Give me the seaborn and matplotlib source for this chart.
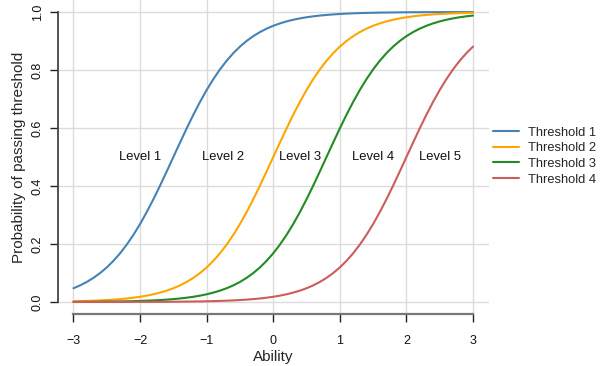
"""
Probability of passing each threshold by ability (four logistic curves).
"""

import matplotlib
matplotlib.use("Agg")
import matplotlib.pyplot as plt
import pandas as pd
import seaborn as sns


ABILITY = [
    -3.0, -2.9, -2.8, -2.7, -2.6, -2.5, -2.4, -2.3, -2.2, -2.1,
    -2.0, -1.9, -1.8, -1.7, -1.6, -1.5, -1.4, -1.3, -1.2, -1.1,
    -1.0, -0.9, -0.8, -0.7, -0.6, -0.5, -0.4, -0.3, -0.2, -0.1,
    0.0, 0.1, 0.2, 0.3, 0.4, 0.5, 0.6, 0.7, 0.8, 0.9,
    1.0, 1.1, 1.2, 1.3, 1.4, 1.5, 1.6, 1.7, 1.8, 1.9,
    2.0, 2.1, 2.2, 2.3, 2.4, 2.5, 2.6, 2.7, 2.8, 2.9,
    3.0
]

THRESHOLD_1 = [
    0.0474, 0.0573, 0.0691, 0.0832, 0.0998, 0.1192, 0.1419, 0.1680, 0.1978, 0.2315,
    0.2689, 0.3100, 0.3543, 0.4013, 0.4502, 0.5000, 0.5498, 0.5987, 0.6457, 0.6900,
    0.7311, 0.7685, 0.8022, 0.8320, 0.8581, 0.8808, 0.9002, 0.9168, 0.9309, 0.9427,
    0.9526, 0.9608, 0.9677, 0.9734, 0.9781, 0.9820, 0.9852, 0.9879, 0.9900, 0.9918,
    0.9933, 0.9945, 0.9955, 0.9963, 0.9970, 0.9975, 0.9980, 0.9983, 0.9986, 0.9989,
    0.9991, 0.9993, 0.9994, 0.9995, 0.9996, 0.9997, 0.9997, 0.9998, 0.9998, 0.9998,
    0.9999
]

THRESHOLD_2 = [
    0.0025, 0.0030, 0.0037, 0.0045, 0.0055, 0.0067, 0.0082, 0.0100, 0.0121, 0.0148,
    0.0180, 0.0219, 0.0266, 0.0323, 0.0392, 0.0474, 0.0573, 0.0691, 0.0832, 0.0998,
    0.1192, 0.1419, 0.1680, 0.1978, 0.2315, 0.2689, 0.3100, 0.3543, 0.4013, 0.4502,
    0.5000, 0.5498, 0.5987, 0.6457, 0.6900, 0.7311, 0.7685, 0.8022, 0.8320, 0.8581,
    0.8808, 0.9002, 0.9168, 0.9309, 0.9427, 0.9526, 0.9608, 0.9677, 0.9734, 0.9781,
    0.9820, 0.9852, 0.9879, 0.9900, 0.9918, 0.9933, 0.9945, 0.9955, 0.9963, 0.9970,
    0.9975
]

THRESHOLD_3 = [
    0.0005, 0.0006, 0.0007, 0.0009, 0.0011, 0.0014, 0.0017, 0.0020, 0.0025, 0.0030,
    0.0037, 0.0045, 0.0055, 0.0067, 0.0082, 0.0100, 0.0121, 0.0148, 0.0180, 0.0219,
    0.0266, 0.0323, 0.0392, 0.0474, 0.0573, 0.0691, 0.0832, 0.0998, 0.1192, 0.1419,
    0.1680, 0.1978, 0.2315, 0.2689, 0.3100, 0.3543, 0.4013, 0.4502, 0.5000, 0.5498,
    0.5987, 0.6457, 0.6900, 0.7311, 0.7685, 0.8022, 0.8320, 0.8581, 0.8808, 0.9002,
    0.9168, 0.9309, 0.9427, 0.9526, 0.9608, 0.9677, 0.9734, 0.9781, 0.9820, 0.9852,
    0.9879
]

THRESHOLD_4 = [
    0.0000, 0.0001, 0.0001, 0.0001, 0.0001, 0.0001, 0.0002, 0.0002, 0.0002, 0.0003,
    0.0003, 0.0004, 0.0005, 0.0006, 0.0007, 0.0009, 0.0011, 0.0014, 0.0017, 0.0020,
    0.0025, 0.0030, 0.0037, 0.0045, 0.0055, 0.0067, 0.0082, 0.0100, 0.0121, 0.0148,
    0.0180, 0.0219, 0.0266, 0.0323, 0.0392, 0.0474, 0.0573, 0.0691, 0.0832, 0.0998,
    0.1192, 0.1419, 0.1680, 0.1978, 0.2315, 0.2689, 0.3100, 0.3543, 0.4013, 0.4502,
    0.5000, 0.5498, 0.5987, 0.6457, 0.6900, 0.7311, 0.7685, 0.8022, 0.8320, 0.8581,
    0.8808
]

SERIES_NAMES = ["Threshold 1", "Threshold 2", "Threshold 3", "Threshold 4"]
SERIES_COLORS = ["#4682B4", "#FFA500", "#228B22", "#CD5C5C"]

LEVEL_LABELS = ["Level 1", "Level 2", "Level 3", "Level 4", "Level 5"]
LEVEL_X = [-2.0, -0.75, 0.4, 1.5, 2.5]
LEVEL_Y = 0.5

X_TICKS = [-3, -2, -1, 0, 1, 2, 3]
Y_TICKS = [0.0, 0.2, 0.4, 0.6, 0.8, 1.0]


def build_dataframe() -> pd.DataFrame:
    frames = []
    for name, values in zip(
            SERIES_NAMES,
            [THRESHOLD_1, THRESHOLD_2, THRESHOLD_3, THRESHOLD_4]
    ):
        frames.append(
            pd.DataFrame({
                "Ability": ABILITY,
                "Probability": values,
                "Series": name
            })
        )
    return pd.concat(frames, ignore_index=True)


def main() -> None:
    sns.set_style("white")
    plt.rcParams["font.family"] = ["Liberation Sans", "DejaVu Sans"]

    data = build_dataframe()

    fig = plt.figure(figsize=(6.04, 3.66), dpi=100)
    ax = fig.add_axes([0.0952, 0.1432, 0.7144, 0.8556])

    ax.grid(True, color="#dcdcdc", linewidth=1.0)
    ax.set_axisbelow(True)

    sns.lineplot(
        data=data,
        x="Ability",
        y="Probability",
        hue="Series",
        palette=dict(zip(SERIES_NAMES, SERIES_COLORS)),
        linewidth=1.5,
        ax=ax
    )

    for label, x_pos in zip(LEVEL_LABELS, LEVEL_X):
        ax.text(x_pos, LEVEL_Y, label, ha="center", va="center",
                fontsize=9.4, color="#111111")

    ax.set_xlim(-3.24, 3.24)
    ax.set_ylim(-0.04, 1.04)
    ax.set_xticks(X_TICKS)
    ax.set_xticklabels(["\u22123", "\u22122", "\u22121", "0", "1", "2", "3"])
    ax.set_yticks(Y_TICKS)
    ax.set_yticklabels([f"{v:.1f}" for v in Y_TICKS], rotation=90, va="center")

    for side in ["top", "right"]:
        ax.spines[side].set_visible(False)
    ax.spines["left"].set_bounds(0, 1)
    ax.spines["bottom"].set_bounds(-3, 3)
    ax.spines["left"].set_color("#444444")
    ax.spines["bottom"].set_color("#777777")
    ax.spines["left"].set_linewidth(1.3)
    ax.spines["bottom"].set_linewidth(1.6)

    ax.tick_params(axis="both", direction="out", length=6, width=1.0,
                   color="#222222", labelsize=9, labelcolor="#111111",
                   left=True, bottom=True)
    ax.tick_params(axis="x", pad=9.5)
    ax.tick_params(axis="y", pad=4)

    ax.set_xlabel("Ability", fontsize=11, labelpad=2)
    ax.set_ylabel("Probability of passing threshold", fontsize=11, labelpad=4)

    handles, labels = ax.get_legend_handles_labels()
    ax.legend(
        handles, labels,
        loc="center left",
        bbox_to_anchor=(1.0, 0.503),
        frameon=False,
        fontsize=9.3,
        handlelength=2.0,
        handletextpad=0.7,
        labelspacing=0.28,
        borderpad=0.1,
        borderaxespad=0.2
    )

    fig.savefig("out.png", dpi=100)


if __name__ == "__main__":
    main()
